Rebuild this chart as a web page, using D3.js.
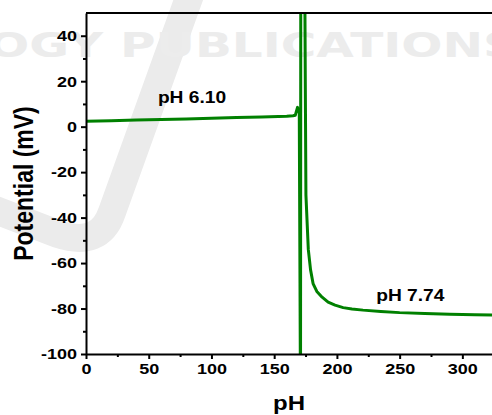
<!DOCTYPE html>
<html>
<head>
<meta charset="utf-8">
<script src="https://cdn.jsdelivr.net/npm/d3@7"></script>
<style>
  body { margin: 0; background: #fff; }
  svg { display: block; }
</style>
</head>
<body>
<div id="chart"></div>
<script>
// titration curve
var xValues   = [0, 20, 40, 60, 80, 100, 120, 140, 160, 165, 166.8, 168.6, 170.0, 171.0, 171.2, 174.3, 174.8, 175.3, 177.2, 179, 181, 184, 188.2, 193, 198.5, 205, 212, 220.8, 235, 250, 270, 290, 310, 330];
var potential = [2.4, 2.6, 2.9, 3.1, 3.4, 3.7, 4.0, 4.3, 4.6, 4.8, 5.0, 8.5, 6, -125, 75, 75, 20, -30, -54, -63, -69, -72.5, -75, -77.2, -78.5, -79.6, -80.2, -80.7, -81.3, -81.8, -82.2, -82.5, -82.7, -82.9];

var xTicks = [0, 50, 100, 150, 200, 250, 300];
var yTicks = [-100, -80, -60, -40, -20, 0, 20, 40];

var labels = [
  {text: "pH 6.10", x: 56.5, y: 10.5},
  {text: "pH 7.74", x: 230.5, y: -76.6}
];

var width = 492, height = 415;
var pLeft = 86, pTop = 13, pBottom = 354, pRight = 500;
var sx = 1.2; // text in the picture is stretched sideways

var svg = d3.select("#chart").append("svg")
            .attr("width", width)
            .attr("height", height);

// watermark
var wm = svg.append("g");
wm.append("path")
  .attr("d", "M 190,-5 L 112,212 Q 100,248 58,234 L -10,208")
  .attr("fill", "none")
  .attr("stroke", "#ebebeb")
  .attr("stroke-width", 28);
wm.append("text")
  .attr("x", -12)
  .attr("y", 57)
  .attr("textLength", 530)
  .attr("lengthAdjust", "spacingAndGlyphs")
  .style("font-family", "DejaVu Sans")
  .style("font-weight", "bold")
  .style("font-size", "33px")
  .style("fill", "#ececec")
  .text("OGY PUBLICATIONS");

var x = d3.scaleLinear().domain([0, 330]).range([pLeft, pRight]);
var y = d3.scaleLinear().domain([-100, 50]).range([pBottom, pTop]);

svg.append("clipPath").attr("id", "plotclip")
   .append("rect")
   .attr("x", pLeft).attr("y", pTop)
   .attr("width", pRight - pLeft).attr("height", pBottom - pTop);

var line = d3.line()
             .x(function(d, i) { return x(xValues[i]); })
             .y(function(d) { return y(d); });

svg.append("path")
   .datum(potential)
   .attr("clip-path", "url(#plotclip)")
   .attr("d", line)
   .attr("fill", "none")
   .attr("stroke", "#008000")
   .attr("stroke-width", 3)
   .attr("stroke-linejoin", "round");

// frame top line
svg.append("line")
   .attr("x1", pLeft).attr("x2", pRight)
   .attr("y1", pTop).attr("y2", pTop)
   .attr("stroke", "black").attr("stroke-width", 2);

// minor ticks
svg.append("g")
   .attr("transform", "translate(0," + pBottom + ")")
   .call(d3.axisBottom(x).tickValues([25, 75, 125, 175, 225, 275, 325]).tickSize(3).tickFormat(""))
   .call(function(g) { g.select(".domain").remove(); g.selectAll("line").attr("stroke-width", 2); });
svg.append("g")
   .attr("transform", "translate(" + pLeft + ",0)")
   .call(d3.axisLeft(y).tickValues([-90, -70, -50, -30, -10, 10, 30]).tickSize(3).tickFormat(""))
   .call(function(g) { g.select(".domain").remove(); g.selectAll("line").attr("stroke-width", 2); });

var plain = function(d) { return String(d); };
var xAxis = svg.append("g")
   .attr("transform", "translate(0," + pBottom + ")")
   .call(d3.axisBottom(x).tickValues(xTicks).tickFormat(plain).tickSize(5).tickPadding(4).tickSizeOuter(0));
var yAxis = svg.append("g")
   .attr("transform", "translate(" + pLeft + ",0)")
   .call(d3.axisLeft(y).tickValues(yTicks).tickFormat(plain).tickSize(5).tickPadding(4).tickSizeOuter(0));

[xAxis, yAxis].forEach(function(g) {
  g.select(".domain").attr("stroke-width", 2);
  g.selectAll(".tick line").attr("stroke-width", 2);
  g.selectAll("text")
   .style("font-family", "'Liberation Sans', Arial, sans-serif")
   .style("font-weight", "bold")
   .style("font-size", "15px")
   .attr("fill", "black");
});
yAxis.selectAll("text").attr("x", -9 / sx).attr("transform", "scale(" + sx + ",1)");
xAxis.selectAll("text").attr("transform", "scale(" + sx + ",1)");

// curve labels
svg.selectAll(".lbl")
   .data(labels)
   .enter().append("text")
   .attr("class", "lbl")
   .attr("transform", function(d) { return "translate(" + (x(d.x) + 1) + "," + y(d.y) + ") scale(" + sx + ",1)"; })
   .style("font-family", "'Liberation Sans', Arial, sans-serif")
   .style("font-weight", "bold")
   .style("font-size", "16px")
   .text(function(d) { return d.text; });

// axis titles
svg.append("text")
   .attr("transform", "translate(" + ((pLeft + width) / 2) + ",410) scale(" + sx + ",1)")
   .attr("text-anchor", "middle")
   .style("font-family", "'Liberation Sans', Arial, sans-serif")
   .style("font-weight", "bold")
   .style("font-size", "20px")
   .text("pH");

svg.append("text")
   .attr("transform", "translate(33," + ((pTop + pBottom) / 2) + ") scale(" + sx + ",1) rotate(-90)")
   .attr("text-anchor", "middle")
   .style("font-family", "'Liberation Sans', Arial, sans-serif")
   .style("font-weight", "bold")
   .style("font-size", "23px")
   .text("Potential (mV)");
</script>
</body>
</html>
